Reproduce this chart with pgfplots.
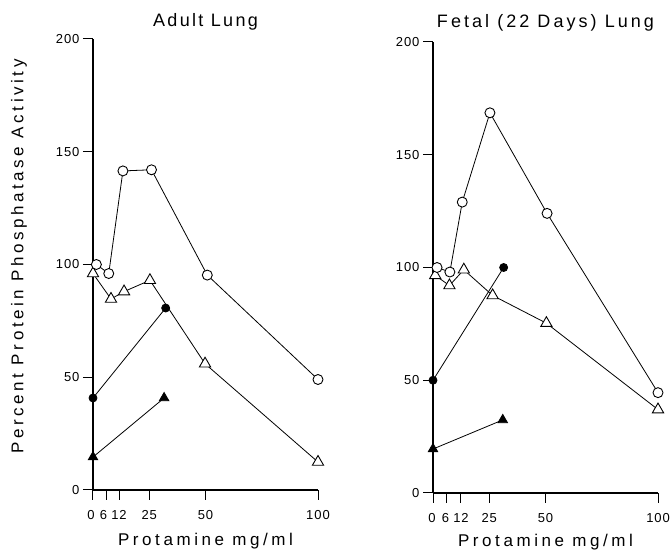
\documentclass[border=0pt]{standalone}
\usepackage{fontspec}
\setmainfont{Liberation Sans}
\newfontfamily\lsT[LetterSpace=13]{Liberation Sans}
\newfontfamily\lsR[LetterSpace=17]{Liberation Sans}
\newfontfamily\lsL[LetterSpace=21]{Liberation Sans}
\newfontfamily\lsN[LetterSpace=7]{Liberation Sans}
\newcommand\sh[2]{\kern#1\hbox to 0pt{\hss#2\hss}\kern-#1}
\usepackage{pgfplots}
\pgfplotsset{compat=1.18}
\pgfplotsset{
 panel/.style={
  scale only axis, width=225pt, height=451pt,
  xmin=0, xmax=100, ymin=0, ymax=200,
  axis x line*=bottom, axis y line*=left,
  axis line style={line width=1.1pt, -},
  tick align=outside, major tick length=10pt,
  tick style={line width=1pt, black},
  xtick={0,6,12,25,50,100}, ytick={0,50,100,150,200},
  /pgf/number format/assume math mode=true,
  tick label style={font=\lsN\fontsize{13}{15}\selectfont},
  xticklabel style={yshift=-7pt},
  label style={font=\lsL\fontsize{17}{19}\selectfont},
  title style={font=\lsT\fontsize{18}{20}\selectfont, anchor=center, yshift=0pt},
  clip=false,
 },
 ocirc/.style={black, line width=0.8pt, mark=*, mark size=5pt, mark options={fill=white, line width=0.9pt}},
 otri/.style={black, line width=0.8pt, mark=triangle*, mark size=6.5pt, mark options={fill=white, line width=0.9pt}},
 fcirc/.style={black, line width=0.8pt, mark=*, mark size=4pt, mark options={fill=black}},
 ftri/.style={black, line width=0.8pt, mark=triangle*, mark size=5.5pt, mark options={fill=black}},
}
\begin{document}
\begin{tikzpicture}
\useasboundingbox (0,0) rectangle (672pt,551pt);
\begin{axis}[panel, at={(93pt,61pt)}, anchor=south west,
  xticklabels={\sh{-2pt}{0},\sh{-3pt}{6},\sh{-1pt}{12},25,50,100},
  title={Adult Lung}, title style={at={(axis description cs:0.5,1.024)}},
  xlabel={Protamine mg/ml}, xlabel style={at={(axis description cs:0.5,-0.113)}, anchor=center},
  ylabel={Percent Protein Phosphatase Activity}, ylabel style={at={(axis description cs:-0.329,0.518)}, anchor=center}]
\addplot[ftri] coordinates {(0,14.6) (31.6,40.8)};
\addplot[fcirc] coordinates {(0,40.8) (32.3,80.7)};
\addplot[otri] coordinates {(0,96) (8,84.7) (13.8,88) (25.3,93) (49.8,56) (100,12.4)};
\addplot[ocirc] coordinates {(1.5,100) (7,96) (13.3,141.5) (26,142) (50.8,95.3) (100,49)};
\end{axis}
\begin{axis}[panel, at={(433pt,58pt)}, anchor=south west,
  xticklabels={\sh{-1pt}{0},\sh{-1pt}{6},\sh{1pt}{12},25,50,100},
  title={\lsR Fetal (22 Days) Lung}, title style={at={(axis description cs:0.5,1.030)}},
  xlabel={Protamine mg/ml}, xlabel style={at={(axis description cs:0.5,-0.109)}, anchor=center}]
\addplot[ftri] coordinates {(0,19.5) (31,32.4)};
\addplot[fcirc] coordinates {(0,50) (31.4,100)};
\addplot[otri] coordinates {(1,96.5) (7.3,92) (13.7,99) (26.5,87.6) (50.4,75.3) (100,37)};
\addplot[ocirc] coordinates {(1.8,100) (7.5,98) (13,129) (25.3,168.6) (50.7,124) (100,44.5)};
\end{axis}
\end{tikzpicture}
\end{document}
